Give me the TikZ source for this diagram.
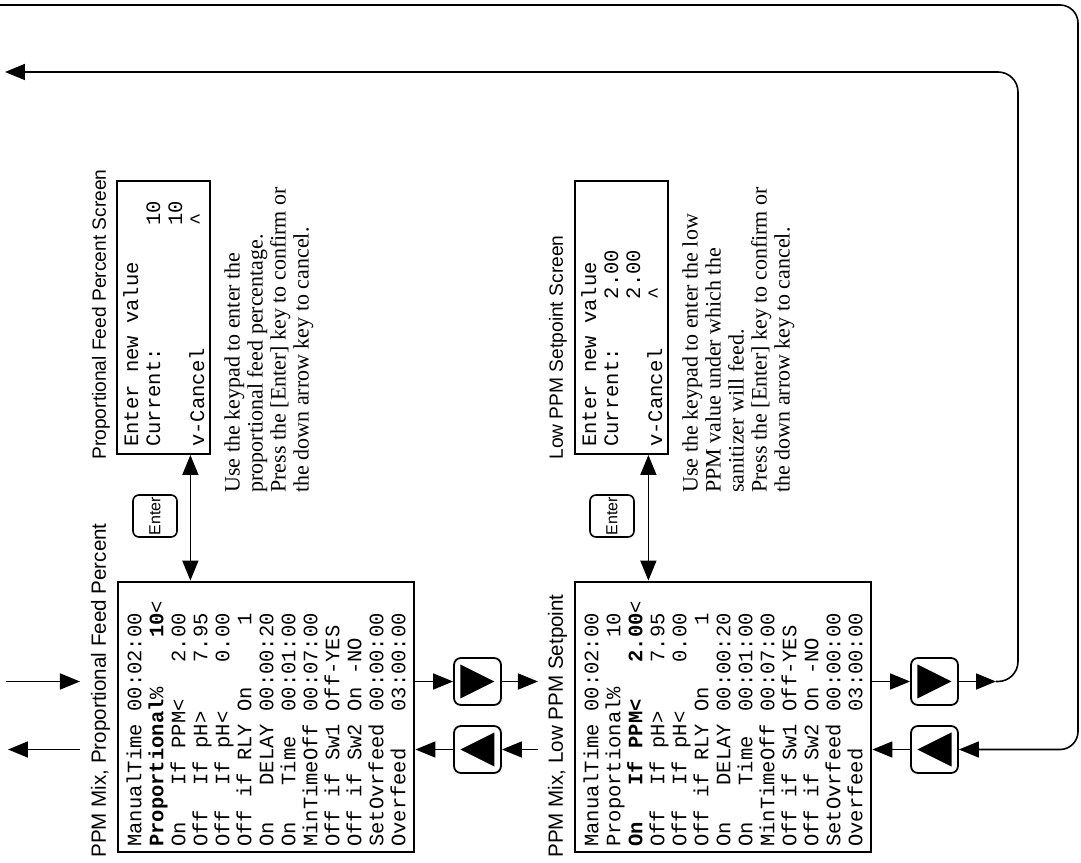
\documentclass[tikz,border=0pt]{standalone}
\usepackage{fontspec}
\setmainfont{Liberation Serif}
\setsansfont{Liberation Sans}
\setmonofont{Liberation Mono}
\usetikzlibrary{arrows.meta,positioning,calc}
% fixed-width gap of #1 character cells
\newcommand{\blanks}[1]{\hspace*{#1\fontcharwd\font`\0}}

\begin{document}
\begin{tikzpicture}[
        x=0.5pt, y=0.5pt,
        screen/.style={draw, rectangle, line width=1.2pt, align=left, anchor=north west, inner ysep=0pt, font=\fontsize{10.25}{11}\ttfamily},
        mainscr/.style={screen, inner xsep=2.5pt, text width=130pt, minimum height=148pt},
        entryscr/.style={screen, inner xsep=3.5pt, text width=129.5pt, minimum height=46.5pt},
        scrtitle/.style={anchor=base west, inner sep=0pt, font=\fontsize{9.6}{11}\sffamily},
        menutitle/.style={scrtitle, font=\fontsize{10.3}{12}\sffamily},
        note/.style={anchor=north west, inner sep=0pt, align=left, font=\fontsize{11}{11.5}\selectfont},
        navkey/.style={draw, line width=0.9pt, rounded corners=3.5pt, minimum width=23.5pt, minimum height=23.5pt, inner sep=0pt},
        enterkey/.style={draw, line width=0.8pt, rounded corners=3pt, minimum width=21pt, minimum height=22pt, inner sep=0pt, font=\fontsize{8}{9}\sffamily},
        flow/.style={-{Triangle[length=10pt,width=8pt]}, line width=0.8pt},
        dblflow/.style={{Triangle[length=10pt,width=8pt]}-{Triangle[length=10pt,width=8pt]}, line width=0.8pt}
    ]
    \begin{scope}[rotate=90, transform shape]
        \useasboundingbox (0,0) rectangle (862,1081);

        % main menu screens
        \node[mainscr] (mixprop) at (9,964) {ManualTime\blanks{1}00:02:00\\
            \textbf{Proportional}\%\blanks{4}\textbf{10}<\\
            On\blanks{3}If\blanks{1}PPM<\blanks{3}2.00\\
            Off\blanks{2}If\blanks{1}pH>\blanks{4}7.95\\
            Off\blanks{2}If\blanks{1}pH<\blanks{4}0.00\\
            Off\blanks{1}if\blanks{1}RLY\blanks{1}On\blanks{5}1\\
            On\blanks{3}DELAY\blanks{1}00:00:20\\
            On\blanks{3}Time\blanks{2}00:01:00\\
            MinTimeOff\blanks{1}00:07:00\\
            Off\blanks{1}if\blanks{1}Sw1\blanks{1}Off-YES\\
            Off\blanks{1}if\blanks{1}Sw2\blanks{1}On\blanks{1}-NO\\
            SetOvrfeed\blanks{1}00:00:00\\
            Overfeed\blanks{3}03:00:00};
        \node[menutitle] at ([shift={(-5,11)}]mixprop.north west) {PPM Mix, Proportional Feed Percent};

        \node[mainscr] (mixlow) at (9,507) {ManualTime\blanks{1}00:02:00\\
            Proportional\%\blanks{4}10\\
            \textbf{On\blanks{3}If\blanks{1}PPM<\blanks{3}2.00}<\\
            Off\blanks{2}If\blanks{1}pH>\blanks{4}7.95\\
            Off\blanks{2}If\blanks{1}pH<\blanks{4}0.00\\
            Off\blanks{1}if\blanks{1}RLY\blanks{1}On\blanks{5}1\\
            On\blanks{3}DELAY\blanks{1}00:00:20\\
            On\blanks{3}Time\blanks{2}00:01:00\\
            MinTimeOff\blanks{1}00:07:00\\
            Off\blanks{1}if\blanks{1}Sw1\blanks{1}Off-YES\\
            Off\blanks{1}if\blanks{1}Sw2\blanks{1}On\blanks{1}-NO\\
            SetOvrfeed\blanks{1}00:00:00\\
            Overfeed\blanks{3}03:00:00};
        \node[menutitle] at ([shift={(-5,11)}]mixlow.north west) {PPM Mix, Low PPM Setpoint};

        % entry screens
        \node[entryscr] (propscr) at (407,965) {Enter\blanks{1}new\blanks{1}value\\
            Current:\blanks{10}10\\
            \blanks{18}10\\
            v-Cancel\blanks{10}\textasciicircum};
        \node[scrtitle] at ([shift={(-5,10)}]propscr.north west) {Proportional Feed Percent Screen};
        \node[note] (propnote) at (369,857) {Use the keypad to enter the\\
            proportional feed percentage.\\
            Press the [Enter] key to confirm or\\
            the down arrow key to cancel.};

        \node[entryscr] (lowscr) at (407,507) {Enter\blanks{1}new\blanks{1}value\\
            Current:\blanks{4}2.00\\
            \blanks{12}2.00\\
            v-Cancel\blanks{4}\textasciicircum};
        \node[scrtitle] at ([shift={(-5,11)}]lowscr.north west) {Low PPM Setpoint Screen};
        \node[note] (lownote) at (369,399) {Use the keypad to enter the low\\
            PPM value under which the\\
            sanitizer will feed.\\
            Press the [Enter] key to confirm or\\
            the down arrow key to cancel.};

        % enter keys
        \node[enterkey] (propenter) at (346,926) {Enter};
        \node[enterkey] (lowenter) at (346,469) {Enter};
        \coordinate (propin) at ([yshift=10.5pt]propscr.south west);
        \coordinate (lowin) at ([yshift=10.5pt]lowscr.south west);
        \draw[dblflow] (mixprop.east |- propin) -- (propin);
        \draw[dblflow] (mixlow.east |- lowin) -- (lowin);

        % arrow keys
        \node[navkey] (fwdA) at (180.5,603.5) {};
        \node[navkey] (backA) at (112.5,603.5) {};
        \node[navkey] (fwdB) at (180.5,146.5) {};
        \node[navkey] (backB) at (112.5,146.5) {};
        \foreach \k in {fwdA,fwdB}
            \fill (\k.center) ++(-17,17) -- ++(34,0) -- ++(-17,-34) -- cycle;
        \foreach \k in {backA,backB}
            \fill (\k.center) ++(-17,-17) -- ++(34,0) -- ++(-17,34) -- cycle;

        % free ends
        \coordinate (inA) at (180.5,1075);
        \coordinate (inAend) at (180.5,1001);
        \coordinate (outAstart) at (112.5,1001);
        \coordinate (outA) at (112.5,1073);
        \coordinate (fwdAend) at (180.5,543);
        \coordinate (backAstart) at (112.5,543);
        \coordinate (fwdBend) at (180.5,85);
        \coordinate (loopend) at (790,1076);
        \coordinate (outB) at (857,1081);

        % connectors
        \draw[flow] (inA) -- (inAend);
        \draw[flow] (outAstart) -- (outA);
        \draw[flow] (mixprop.south -| fwdA.north) -- (fwdA.north);
        \draw[flow] (fwdA.south) -- (fwdAend);
        \draw[flow] (backAstart) -- (backA.south);
        \draw[flow] (backA.north) -- (mixprop.south -| backA.north);
        \draw[flow] (mixlow.south -| fwdB.north) -- (fwdB.north);
        \draw[flow] (fwdB.south) -- (fwdBend);
        \draw[flow, rounded corners=10pt] (fwdBend) -- (180.5,63) -- (790,63) -- (loopend);
        \draw[flow, rounded corners=9pt] (outB) -- (857,3) -- (112.5,3) -- (backB.south);
        \draw[flow] (backB.north) -- (mixlow.south -| backB.north);
    \end{scope}
\end{tikzpicture}
\end{document}
